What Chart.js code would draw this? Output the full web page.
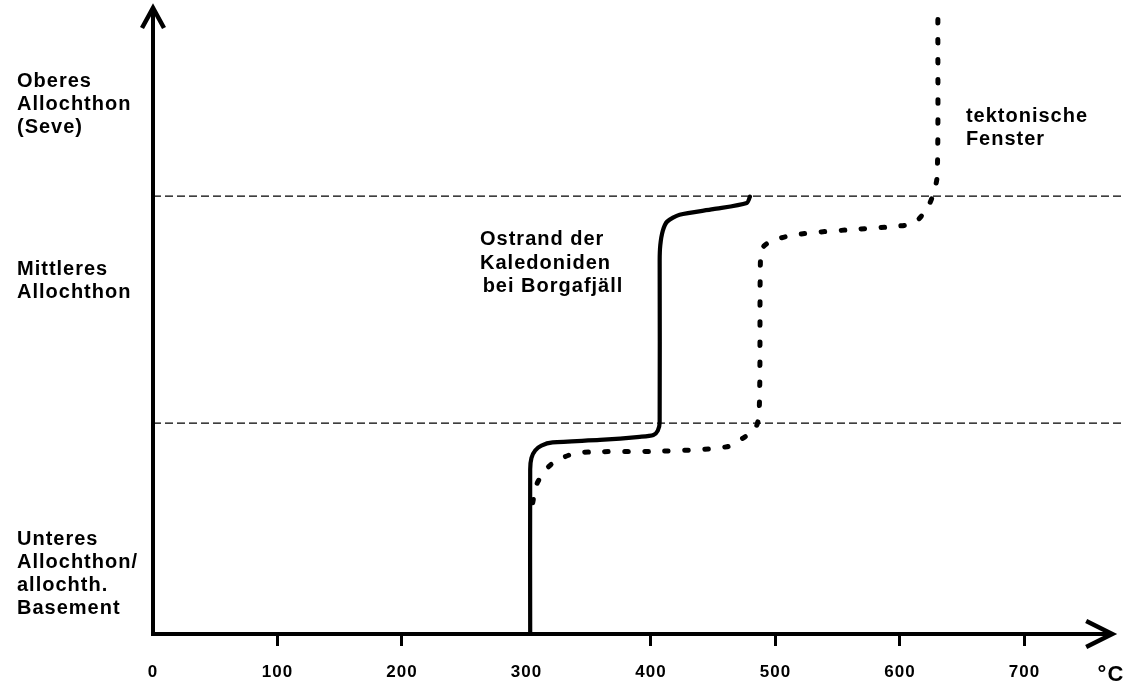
<!DOCTYPE html>
<html>
<head>
<meta charset="utf-8">
<script src="https://cdn.jsdelivr.net/npm/chart.js@4.4.1/dist/chart.umd.min.js"></script>
<style>
  html, body { margin: 0; padding: 0; background: #ffffff; }
  #c { display: block; }
</style>
</head>
<body>
<canvas id="c" width="1128" height="685"></canvas>
<script>
// ---------- data ----------
// x: temperature (°C); y: relative structural height (0 = base, 100 = top of column)
const solidX  = [303, 303, 304, 307, 312, 321, 359, 391, 402, 405.5, 407, 407, 407.5, 409.5, 413, 423, 450, 477, 479.5];
const solidY  = [0, 26.5, 28.3, 29.5, 30.3, 30.8, 31.2, 31.7, 32.0, 32.7, 34.0, 60.0, 62.5, 64.8, 66.3, 67.4, 68.3, 69.3, 70.3];

const dottedX = [305, 307, 309, 314, 320, 331, 340, 357, 409, 461, 474, 484, 487, 488, 490, 498, 520, 560, 600, 612, 622, 627, 630, 630.5];
const dottedY = [21.1, 23.2, 24.4, 26.0, 27.3, 28.5, 29.1, 29.3, 29.4, 30.1, 31.5, 33.1, 36.0, 60.6, 62.2, 63.3, 64.3, 65.0, 65.6, 66.2, 68.5, 70.9, 73.8, 99.5];

// boundaries between tectonic units
const boundaryY = [33.9, 70.4];
const boundaryX = [0, 780];

// x-axis ticks
const xTickValues = [0, 100, 200, 300, 400, 500, 600, 700];
const unitTickValue = 769.5;
const unitLabel = '°C';

// y-axis category labels (tectonic units)
const unitTickY = [9.7, 56.8, 85.2];
const unitNames = [
  ['Unteres', 'Allochthon/', 'allochth.', 'Basement'],
  ['Mittleres', 'Allochthon'],
  ['Oberes', 'Allochthon', '(Seve)']
];

// text annotations (anchored in data coordinates, left/baseline)
const noteOstrandLines = ['Ostrand der', 'Kaledoniden', 'bei Borgafjäll'];
const noteOstrandX = [262.7, 262.7, 264.8];
const noteOstrandY = [62.54, 58.76, 54.98];
const noteFensterLines = ['tektonische', 'Fenster'];
const noteFensterX = [653, 653];
const noteFensterY = [82.32, 78.62];

const xMin = 0, xMax = 780, yMin = 0, yMax = 100;
const xArrowTip = 770.5;

// ---------- build ----------
const FONT = '"Liberation Sans", Arial, Helvetica, sans-serif';
Chart.defaults.font.family = FONT;
Chart.defaults.color = '#000';

const toPts = (xs, ys) => xs.map((v, i) => ({ x: v, y: ys[i] }));

const datasets = [
  {
    label: 'Ostrand der Kaledoniden bei Borgafjäll',
    data: toPts(solidX, solidY),
    borderColor: '#000', borderWidth: 4.2, tension: 0.25,
    borderCapStyle: 'round', borderJoinStyle: 'round',
    pointRadius: 0, fill: false
  },
  {
    label: 'tektonische Fenster',
    data: toPts(dottedX, dottedY),
    borderColor: '#000', borderWidth: 5, tension: 0.3,
    borderDash: [3.5, 16.5], borderCapStyle: 'round', borderJoinStyle: 'round',
    pointRadius: 0, fill: false
  }
];
boundaryY.forEach(b => {
  datasets.push({
    label: 'boundary',
    data: toPts(boundaryX, boundaryX.map(() => b)),
    borderColor: '#000', borderWidth: 1.1, borderDash: [8, 4],
    pointRadius: 0, fill: false, tension: 0
  });
});

const spacingPlugin = {
  id: 'spacing',
  beforeDraw(chart) { chart.ctx.letterSpacing = '1px'; }
};

const notesPlugin = {
  id: 'notes',
  afterDatasetsDraw(chart) {
    const { ctx, scales: { x, y } } = chart;
    ctx.save();
    ctx.font = 'bold 20px ' + FONT;
    ctx.letterSpacing = '1px';
    ctx.fillStyle = '#000';
    ctx.textAlign = 'left';
    ctx.textBaseline = 'alphabetic';
    noteOstrandLines.forEach((t, i) => ctx.fillText(t, x.getPixelForValue(noteOstrandX[i]), y.getPixelForValue(noteOstrandY[i])));
    noteFensterLines.forEach((t, i) => ctx.fillText(t, x.getPixelForValue(noteFensterX[i]), y.getPixelForValue(noteFensterY[i])));
    ctx.restore();
  }
};

const axesPlugin = {
  id: 'axesArrows',
  afterDraw(chart) {
    const { ctx, chartArea: a, scales: { x } } = chart;
    const tipX = x.getPixelForValue(xArrowTip);
    ctx.save();
    ctx.strokeStyle = '#000';
    ctx.lineWidth = 4;
    ctx.lineCap = 'butt';
    ctx.lineJoin = 'miter';
    // y axis
    ctx.beginPath();
    ctx.moveTo(a.left, a.bottom + 2);
    ctx.lineTo(a.left, a.top - 3);
    ctx.stroke();
    // x axis
    ctx.beginPath();
    ctx.moveTo(a.left - 2, a.bottom);
    ctx.lineTo(tipX - 2, a.bottom);
    ctx.stroke();
    // arrow heads
    ctx.lineWidth = 4.5;
    ctx.beginPath();
    ctx.moveTo(a.left - 11, a.top + 16);
    ctx.lineTo(a.left, a.top - 4);
    ctx.lineTo(a.left + 11, a.top + 16);
    ctx.stroke();
    ctx.beginPath();
    ctx.moveTo(tipX - 26, a.bottom - 13);
    ctx.lineTo(tipX, a.bottom);
    ctx.lineTo(tipX - 26, a.bottom + 13);
    ctx.stroke();
    ctx.restore();
  }
};

new Chart(document.getElementById('c'), {
  type: 'line',
  data: { datasets },
  options: {
    responsive: false,
    animation: false,
    devicePixelRatio: 1,
    layout: { padding: { left: 17, top: 12, right: 4, bottom: 0 } },
    plugins: { legend: { display: false }, tooltip: { enabled: false } },
    scales: {
      x: {
        type: 'linear', min: xMin, max: xMax,
        border: { display: false },
        grid: {
          drawOnChartArea: false, drawTicks: true, tickLength: 12, tickWidth: 3,
          tickColor: (c) => (c.tick && (c.tick.value === 0 || c.tick.value === 300 || c.tick.value === unitTickValue)) ? 'rgba(0,0,0,0)' : '#000'
        },
        afterBuildTicks: (s) => { s.ticks = xTickValues.concat([unitTickValue]).map(v => ({ value: v })); },
        afterFit: (s) => { s.height = 51; s.paddingLeft = 0; s.paddingRight = 0; },
        ticks: {
          autoSkip: false, maxRotation: 0, minRotation: 0, padding: 16, color: '#000',
          font: (c) => (c.tick && c.tick.value === unitTickValue)
            ? { size: 22, weight: 'bold', lineHeight: 1.2 }
            : { size: 17, weight: 'bold', lineHeight: 1.2 },
          callback: (v) => v === unitTickValue ? unitLabel : String(v)
        }
      },
      y: {
        type: 'linear', min: yMin, max: yMax,
        border: { display: false },
        grid: { display: false },
        afterBuildTicks: (s) => { s.ticks = unitTickY.map(v => ({ value: v })); },
        afterFit: (s) => { s.width = 136; s.paddingTop = 0; s.paddingBottom = 0; },
        ticks: {
          autoSkip: false, crossAlign: 'far', padding: 0, color: '#000',
          font: { size: 20, weight: 'bold', lineHeight: 1.15 },
          callback: (v) => {
            const i = unitTickY.indexOf(v);
            return i >= 0 ? unitNames[i] : '';
          }
        }
      }
    }
  },
  plugins: [spacingPlugin, notesPlugin, axesPlugin]
});
</script>
</body>
</html>
